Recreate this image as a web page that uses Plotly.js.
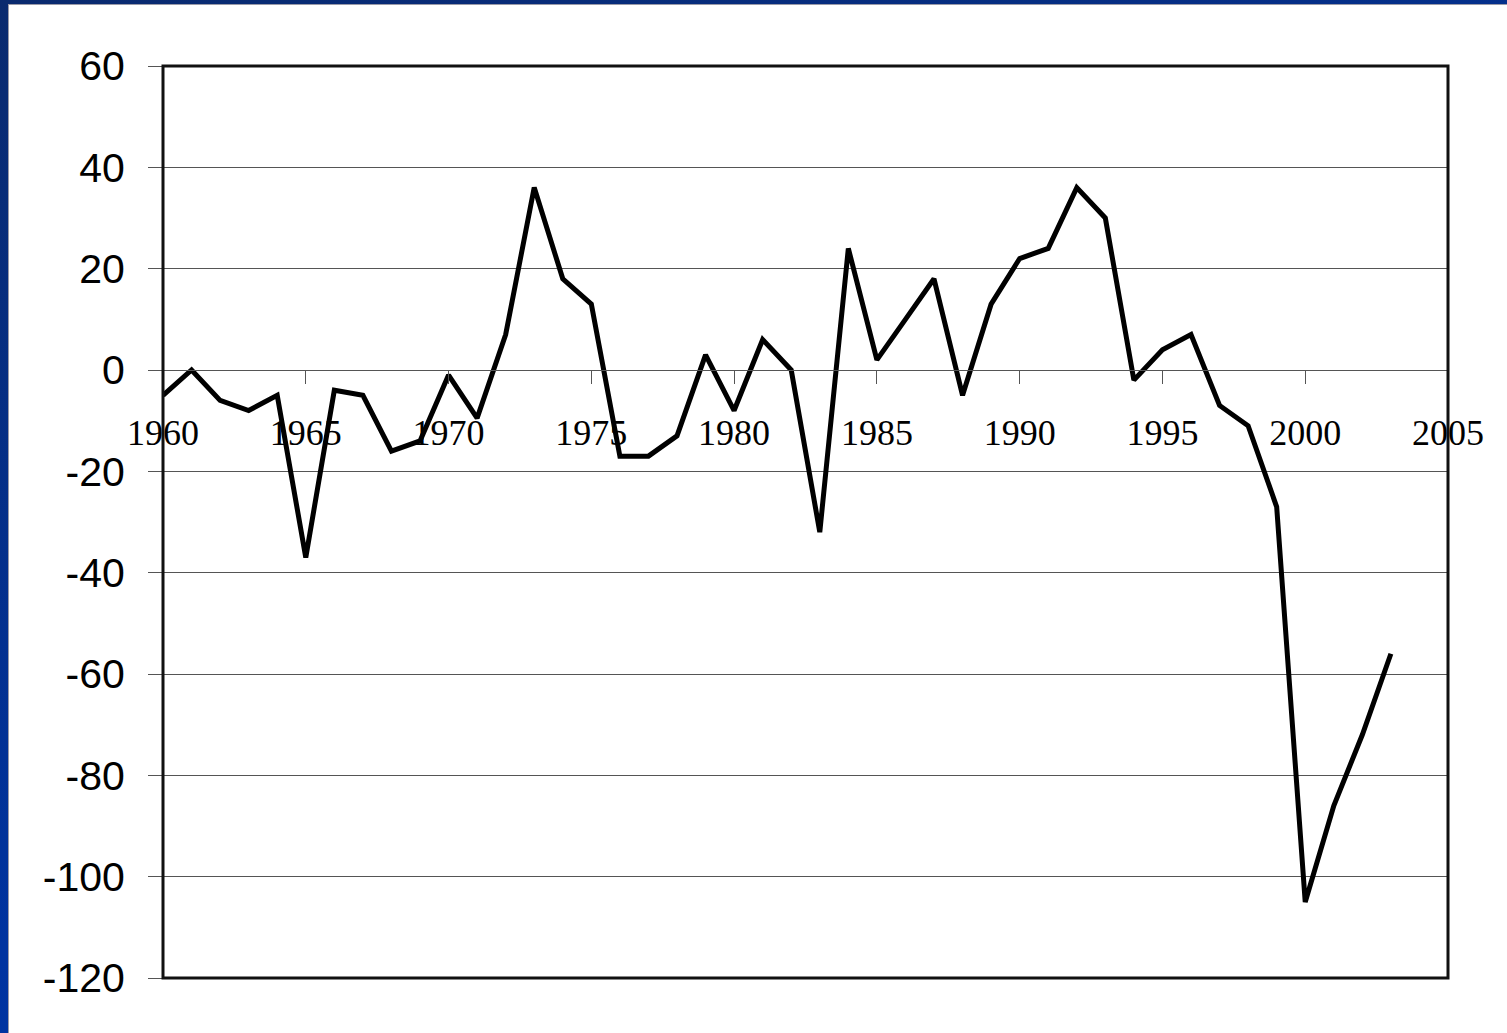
<!DOCTYPE html>
<html>
<head>
<meta charset="utf-8">
<script src="https://cdn.plot.ly/plotly-3.0.1.min.js"></script>
<style>
  html, body { margin: 0; padding: 0; }
  body {
    width: 1507px; height: 1033px; overflow: hidden;
    background: linear-gradient(160deg, #0a2a6e 0%, #0033a0 60%, #0038a8 100%);
  }
  #chart {
    position: absolute; left: 8px; top: 4px; width: 1499px; height: 1029px;
    background: #ffffff; border-left: 1px solid #9a9aa8; border-top: 1px solid #9a9aa8;
    box-sizing: border-box;
  }
</style>
</head>
<body>
<div id="chart"></div>
<script>
const years = [1960,1961,1962,1963,1964,1965,1966,1967,1968,1969,
               1970,1971,1972,1973,1974,1975,1976,1977,1978,1979,
               1980,1981,1982,1983,1984,1985,1986,1987,1988,1989,
               1990,1991,1992,1993,1994,1995,1996,1997,1998,1999,
               2000,2001,2002,2003];
const values = [-5, 0, -6, -8, -5, -37, -4, -5, -16, -14,
                -1, -9.5, 7, 36, 18, 13, -17, -17, -13, 3,
                -8, 6, 0, -32, 24, 2, 10, 18, -5, 13,
                22, 24, 36, 30, -2, 4, 7, -7, -11, -27,
                -105, -86, -72, -56];
const yTicks = [-120, -100, -80, -60, -40, -20, 0, 20, 40, 60];
const xTicks = [1960, 1965, 1970, 1975, 1980, 1985, 1990, 1995, 2000, 2005];

const trace = {
  x: years, y: values, type: 'scatter', mode: 'lines',
  line: { color: '#000000', width: 5, shape: 'linear' },
  hoverinfo: 'x+y'
};

const layout = {
  width: 1499, height: 1029,
  margin: { l: 154, r: 60, t: 61, b: 56, pad: 0 },
  paper_bgcolor: 'rgba(0,0,0,0)',
  plot_bgcolor: '#ffffff',
  showlegend: false,
  xaxis: {
    range: [1960, 2005],
    tickvals: xTicks,
    ticktext: xTicks.map(String),
    anchor: 'free', position: 120/180,
    showgrid: false, zeroline: false,
    showline: true, linecolor: '#555555', linewidth: 1,
    ticks: 'outside', ticklen: 13, tickwidth: 1, tickcolor: '#555555',
    ticklabelstandoff: 18,
    tickfont: { family: 'Liberation Serif, Times New Roman, serif', size: 36, color: '#000000' },
    fixedrange: true
  },
  yaxis: {
    range: [-120, 60],
    tickvals: yTicks,
    ticktext: yTicks.map(String),
    showgrid: true, gridcolor: '#555555', gridwidth: 1,
    zeroline: false,
    showline: false,
    ticks: 'outside', ticklen: 14, tickwidth: 1, tickcolor: '#555555',
    ticklabelstandoff: 15,
    tickfont: { family: 'Liberation Sans, Arial, sans-serif', size: 41, color: '#000000' },
    fixedrange: true
  },
  shapes: [{
    type: 'rect', xref: 'paper', yref: 'paper', x0: 0, x1: 1, y0: 0, y1: 1,
    line: { color: '#111111', width: 3 }, fillcolor: 'rgba(0,0,0,0)', layer: 'above'
  }]
};

Plotly.newPlot('chart', [trace], layout, { displayModeBar: false, staticPlot: true });
</script>
</body>
</html>
